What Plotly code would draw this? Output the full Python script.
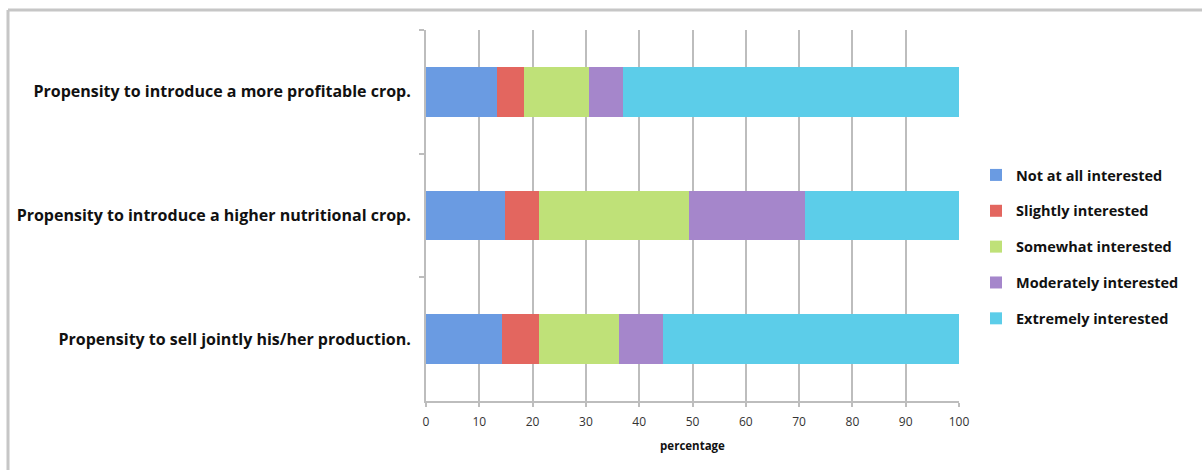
import plotly.graph_objects as go

# Survey items, listed top to bottom
items = [
    "Propensity to introduce a more profitable crop.",
    "Propensity to introduce a higher nutritional crop.",
    "Propensity to sell jointly his/her production.",
]

# Response shares (percent) for each item, same order as `items`
not_at_all = [13.3, 14.8, 14.2]
slightly = [5.0, 6.4, 7.0]
somewhat = [12.2, 28.1, 15.1]
moderately = [6.5, 21.8, 8.1]
extremely = [63.0, 28.9, 55.6]

series = [
    ("Not at all interested", not_at_all, "#6a9be2"),
    ("Slightly interested", slightly, "#e3665f"),
    ("Somewhat interested", somewhat, "#bfe178"),
    ("Moderately interested", moderately, "#a586cb"),
    ("Extremely interested", extremely, "#5ccde9"),
]

x_ticks = list(range(0, 101, 10))

W, H = 1202, 470
ML, MR, MT, MB = 426, 243, 30, 69
pw, ph = W - ML - MR, H - MT - MB

fig = go.Figure()
for name, vals, col in series:
    fig.add_trace(go.Bar(
        y=items, x=vals, name=name, orientation="h",
        marker=dict(color=col, line=dict(width=0)),
        width=0.4, legendgroup=name,
    ))

grid_col = "#bdbdbd"
label_font = "Open Sans"


def px_to_paper(px, py):
    return (px - ML) / pw, (H - MB - py) / ph


# outer frame: top and left edges
x0, y0 = px_to_paper(8, 10)
x1, _ = px_to_paper(1202, 10)
_, y1 = px_to_paper(8, 470)
frame = dict(type="line", xref="paper", yref="paper",
             line=dict(color="#c6c6c6", width=3))
fig.add_shape(**frame, x0=x0, y0=y0, x1=x1, y1=y0)
fig.add_shape(**frame, x0=x0, y0=y0, x1=x0, y1=y1)

fig.update_layout(
    width=W, height=H,
    margin=dict(l=ML, r=MR, t=MT, b=MB),
    barmode="stack",
    bargap=0.6,
    plot_bgcolor="white",
    paper_bgcolor="white",
    font=dict(family=label_font, color="#111111"),
    showlegend=True,
    legend=dict(
        x=px_to_paper(976, 0)[0], xanchor="left",
        y=px_to_paper(0, 159)[1], yanchor="top",
        traceorder="grouped", tracegroupgap=14,
        font=dict(family=label_font, size=14.5, color="#111111", weight="bold"),
        bgcolor="rgba(0,0,0,0)",
    ),
    xaxis=dict(
        range=[0, 100], tickvals=x_ticks, ticktext=[str(v) for v in x_ticks],
        showgrid=True, gridcolor=grid_col, gridwidth=2,
        showline=True, linecolor=grid_col, linewidth=2,
        ticks="outside", ticklen=4, tickcolor=grid_col, tickwidth=2,
        ticklabelstandoff=5,
        tickfont=dict(family=label_font, size=12, color="#333333"),
        zeroline=False,
        title=dict(text="percentage", standoff=13,
                   font=dict(family=label_font, size=11.5, color="#111111", weight="bold")),
    ),
    yaxis=dict(
        autorange="reversed", type="category",
        showgrid=False,
        showline=True, linecolor=grid_col, linewidth=2,
        ticks="outside", ticklen=5, tickcolor=grid_col, tickwidth=2,
        tickson="boundaries",
        ticklabelstandoff=10,
        tickfont=dict(family=label_font, size=16, color="#111111", weight="bold"),
    ),
)

fig.write_html("out.html")
